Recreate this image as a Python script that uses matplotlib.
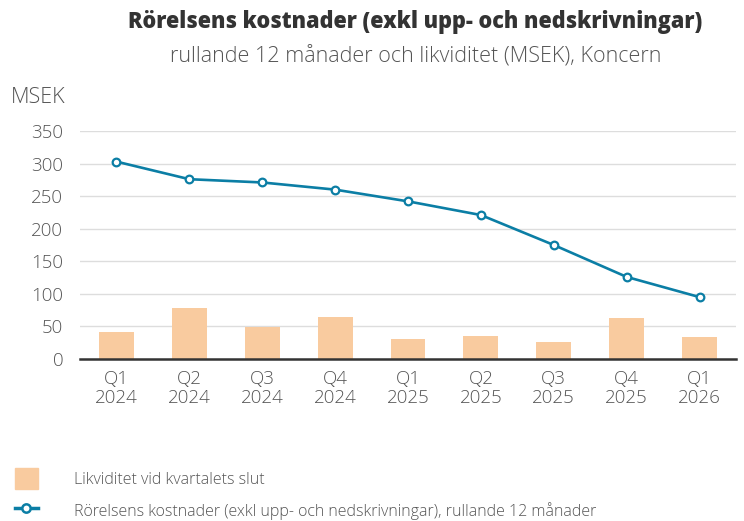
import matplotlib.pyplot as plt
import numpy as np
from matplotlib.patches import Patch
from matplotlib.lines import Line2D

plt.rcParams['font.family'] = ['Open Sans', 'DejaVu Sans']
plt.rcParams['font.weight'] = 'light'

quarters = ['Q1\n2024', 'Q2\n2024', 'Q3\n2024', 'Q4\n2024', 'Q1\n2025',
            'Q2\n2025', 'Q3\n2025', 'Q4\n2025', 'Q1\n2026']
likviditet = [42, 79, 49, 65, 31, 36, 26, 63, 34]
kostnader = [303, 276, 271, 260, 242, 221, 175, 126, 95]

bar_color = '#f9cb9f'
line_color = '#0b7ea5'
text_color = '#555555'

fig = plt.figure(figsize=(7.44, 5.21), dpi=100)
ax = fig.add_axes([80 / 744, 1 - 359 / 521, 656 / 744, 228 / 521])

x = np.arange(len(quarters))
ax.bar(x, likviditet, width=0.48, color=bar_color, zorder=2)
ax.plot(x, kostnader, color=line_color, lw=1.9, marker='o', ms=5.5,
        mfc='white', mec=line_color, mew=1.6, zorder=3)

ax.set_xlim(-0.5, 8.5)
ax.set_ylim(0, 350)
ax.set_yticks(range(0, 351, 50))
ax.set_xticks(x)
ax.set_xticklabels(quarters, fontsize=13.5, linespacing=1.05)
ax.grid(axis='y', color='#dddddd', lw=1, zorder=0)
ax.tick_params(length=0, labelsize=13.5, colors=text_color, pad=8)
ax.tick_params(axis='y', pad=12)
for s in ['top', 'right', 'left']:
    ax.spines[s].set_visible(False)
ax.spines['bottom'].set_color('#333333')
ax.spines['bottom'].set_linewidth(1.8)
ax.spines['bottom'].set_zorder(4)

fig.text(11 / 744, 1 - 97 / 521, 'MSEK', fontsize=15.5, color=text_color, va='center')
fig.text(415 / 744, 1 - 22 / 521, 'Rörelsens kostnader (exkl upp- och nedskrivningar)',
         fontsize=15.6, fontweight='heavy', color='#333333', ha='center', va='center')
fig.text(416 / 744, 1 - 57 / 521, 'rullande 12 månader och likviditet (MSEK), Koncern',
         fontsize=15.5, color=text_color, ha='center', va='center')

handles = [Patch(color=bar_color),
           Line2D([], [], color=line_color, lw=2.5, marker='o', ms=6,
                  mfc='white', mec=line_color, mew=1.8)]
labels = ['Likviditet vid kvartalets slut',
          'Rörelsens kostnader (exkl upp- och nedskrivningar), rullande 12 månader']
leg = fig.legend(handles, labels, loc='upper left', bbox_to_anchor=(0.012, 1 - 462 / 521),
                 frameon=False, fontsize=11.5, handlelength=1.4, handleheight=1.6,
                 handletextpad=2.3, labelspacing=0.7, borderaxespad=0)
for t in leg.get_texts():
    t.set_color(text_color)

fig.savefig('out.png', dpi=100)
